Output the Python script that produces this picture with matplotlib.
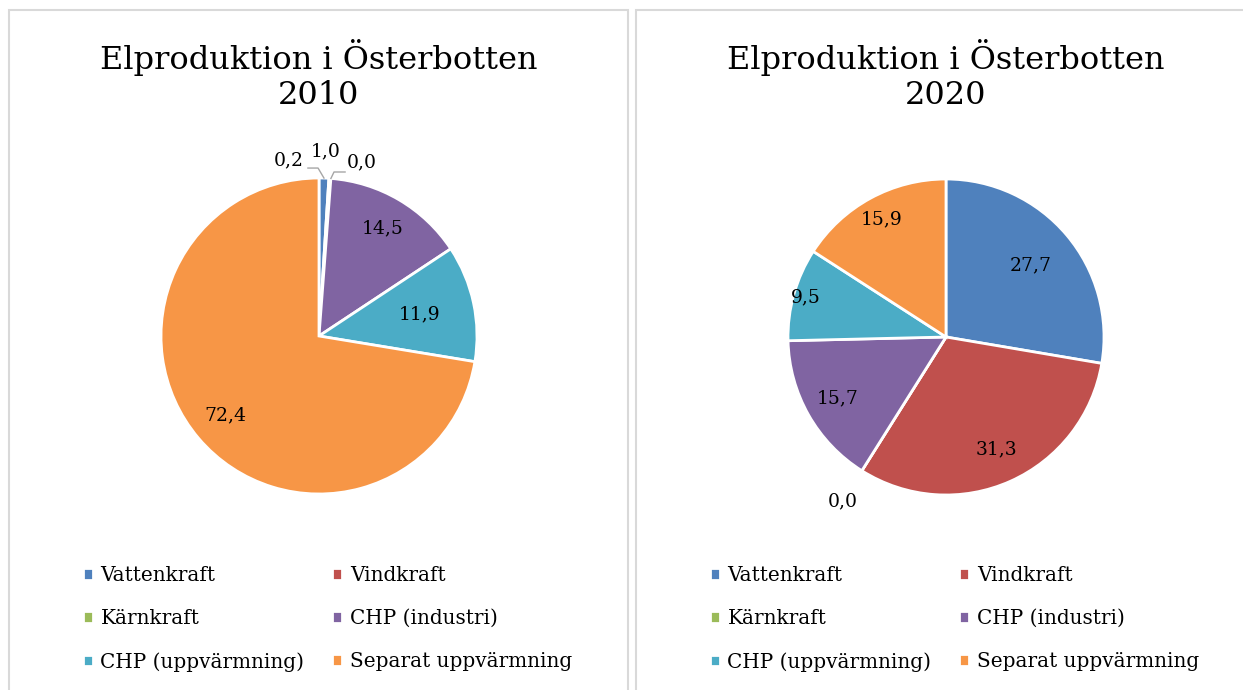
import matplotlib
matplotlib.use("Agg")
import matplotlib.pyplot as plt
from matplotlib.patches import Rectangle
import numpy as np

plt.rcParams['font.family'] = ['DejaVu Serif']

categories = ["Vattenkraft", "Vindkraft", "Kärnkraft", "CHP (industri)",
              "CHP (uppvärmning)", "Separat uppvärmning"]
values_2010 = [1.0, 0.2, 0.0, 14.5, 11.9, 72.4]
values_2020 = [27.7, 31.3, 0.0, 15.7, 9.5, 15.9]
colors = ["#4F81BD", "#C0504D", "#9BBB59", "#8064A2", "#4BACC6", "#F79646"]
title = "Elproduktion i Österbotten"

W, H = 1243, 690
fig = plt.figure(figsize=(W / 100, H / 100), dpi=100)

# panel frames (pixel coords)
for x0, x1 in [(9, 628), (636, 1260)]:
    fig.patches.append(Rectangle((x0 / W, -0.05), (x1 - x0) / W, (H - 10) / H + 0.05,
                                 transform=fig.transFigure, fill=False,
                                 edgecolor="#D9D9D9", lw=1.5))


def fmt(v):
    return f"{v:.1f}".replace(".", ",")


def draw_pie(cx, cy, vals, year, radii, special=None):
    R = 158
    half = R * 1.3
    ax = fig.add_axes([(cx - half) / W, (H - cy - half) / H, 2 * half / W, 2 * half / H])
    wedges, _ = ax.pie(vals, colors=colors, startangle=90, counterclock=False,
                       wedgeprops=dict(edgecolor="white", linewidth=2))
    ax.set_xlim(-1.3, 1.3)
    ax.set_ylim(-1.3, 1.3)
    ax.set_aspect("equal")
    ax.axis("off")
    for i, (w, v) in enumerate(zip(wedges, vals)):
        mid = np.deg2rad((w.theta1 + w.theta2) / 2)
        if special and i in special:
            lx, ly = special[i]["pos"]
            ax.text(lx, ly, fmt(v), ha="center", va="center", fontsize=13.5)
            if "line" in special[i]:
                pts = special[i]["line"] + [(np.cos(mid), np.sin(mid))]
                xs, ys = zip(*pts)
                ax.plot(xs, ys, color="#A6A6A6", lw=1, clip_on=False)
            continue
        r = radii[i]
        ax.text(r * np.cos(mid), r * np.sin(mid), fmt(v), ha="center",
                va="center", fontsize=13.5)
    fig.text(cx / W, 1 - 75 / H, f"{title}\n{year}", ha="center", va="center",
             fontsize=23, linespacing=1.2)
    # row-major legend order (Excel style)
    order = [0, 2, 4, 1, 3, 5]
    fig.legend([wedges[i] for i in order], [categories[i] for i in order],
               ncol=2, loc="upper left",
               bbox_to_anchor=((cx - 236) / W, 1 - 566 / H),
               frameon=False, fontsize=14.4, handlelength=0.5,
               handleheight=0.5, handletextpad=0.37, columnspacing=1.4,
               labelspacing=1.2, borderpad=0, borderaxespad=0)
    return ax


special_2010 = {
    0: {"pos": (0.04, 1.17), "line": [(-0.07, 1.063), (-0.006, 1.063)]},
    1: {"pos": (-0.19, 1.11)},
    2: {"pos": (0.27, 1.10), "line": [(0.165, 1.038), (0.095, 1.038)]},
}
draw_pie(319, 336, values_2010, 2010, [0.8, 0.8, 0.8, 0.79, 0.65, 0.78], special_2010)
draw_pie(946, 337, values_2020, 2020, [0.70, 0.78, 1.23, 0.79, 0.92, 0.85])

fig.savefig("out.png", dpi=100)
